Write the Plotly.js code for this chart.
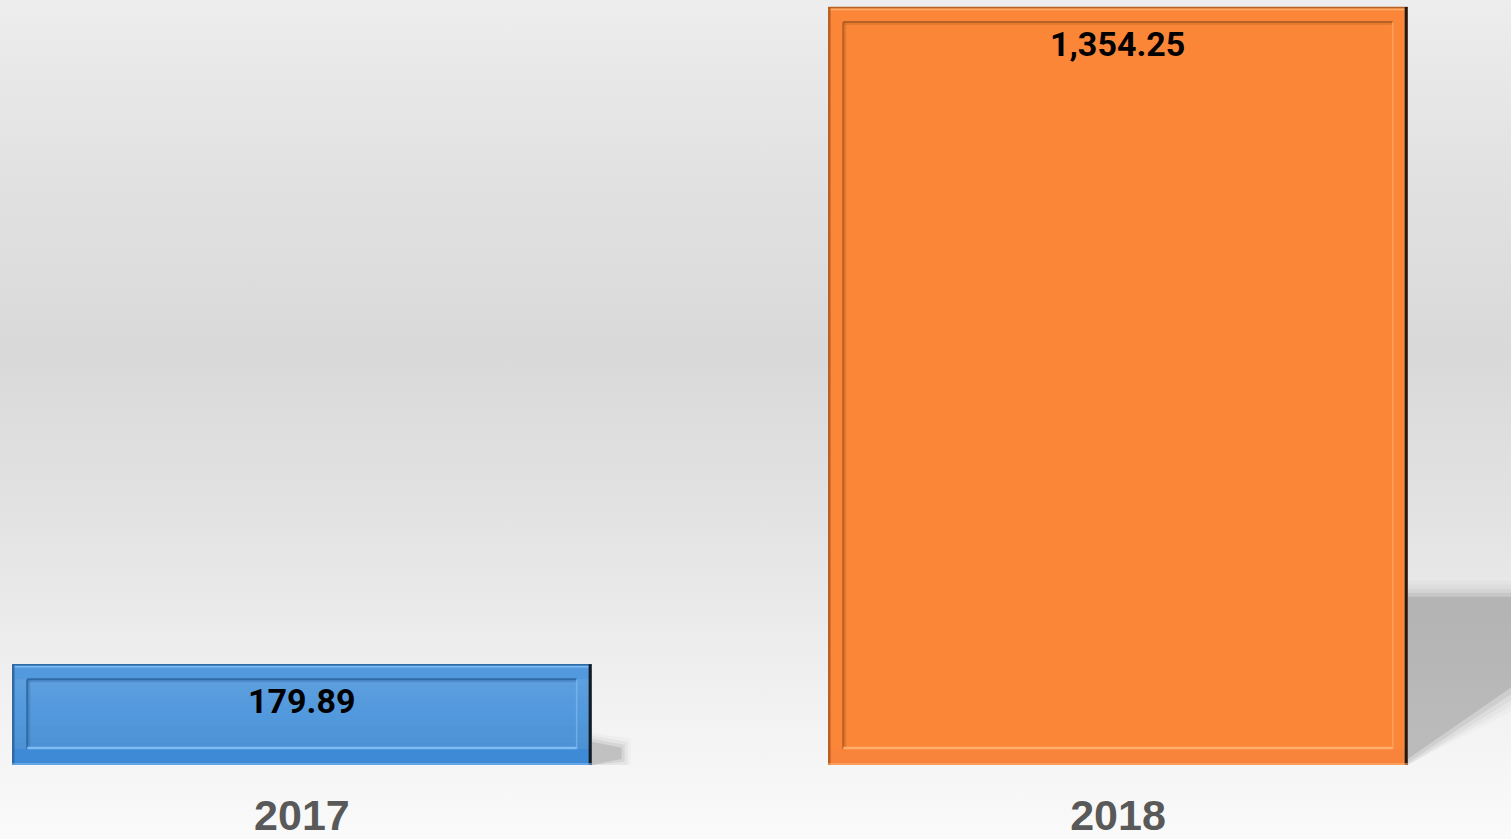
<!DOCTYPE html>
<html>
<head>
<meta charset="utf-8">
<script src="https://cdn.plot.ly/plotly-3.0.1.min.js"></script>
<style>
  html, body { margin: 0; padding: 0; }
  body {
    width: 1511px; height: 839px; overflow: hidden;
    background: linear-gradient(to bottom, #ededed 0%, #e2e2e2 20%, #d9d9d9 42%, #e3e3e3 62%, #efefef 80%, #f6f6f6 92%, #fafafa 100%);
  }
  #chart { width: 1511px; height: 839px; }
</style>
</head>
<body>
<div id="chart"></div>
<script>
// ---- data ----
const categories = ['2017', '2018'];
const values = [179.89, 1354.25];
const barColors = ['#5399DD', '#FB8638'];
const darkEdge = ['#2f6aa5', '#b85f22'];
const lightEdge = ['#7fbcf4', '#ffae6e'];
const bottomBand = ['#3e8ad6', '#f7843a'];
const shade = [0.07, 0.0];

// ---- layout geometry ----
const W = 1511, H = 839, MB = 74;
const plotH = H - MB;
const xRange = [-0.370, 1.4816];
const yRange = [0, 1366.8];
const barWidth = 0.71;
const pxX = W / (xRange[1] - xRange[0]);
const pxY = plotH / (yRange[1] - yRange[0]);
const dx = p => p / pxX;
const dy = p => p / pxY;

const shapes = [];
values.forEach((v, i) => {
  const x0 = i - barWidth / 2, x1 = i + barWidth / 2;
  const hPx = v * pxY;
  // soft shadow to the right of the bar
  const sh = hPx * 0.23;
  const shW = i === 0 ? 30 : 110;
  const drop = i === 0 ? 6 : 72;
  const rims = i === 0 ? [[0, 0.2], [3, 0.12], [6, 0.07], [9, 0.04]] : [[-6, 0.22], [-2, 0.12], [2, 0.08], [6, 0.05], [10, 0.03]];
  rims.forEach(([g, op]) => {
    shapes.push({
      type: 'path', xref: 'x', yref: 'y', layer: 'below',
      path: `M ${x1} ${dy(sh + g)} L ${x1 + dx(shW + g)} ${dy(sh + g - (i === 0 ? 6 : 0))} L ${x1 + dx(shW + g)} ${dy(drop - g)} L ${x1} ${dy(Math.max(0, -g))} Z`,
      fillcolor: `rgba(110,110,110,${op})`, line: { width: 0 }
    });
  });
  const ix0 = x0 + dx(15), ix1 = x1 - dx(15);
  const iy0 = dy(16), iy1 = v - dy(15);
  // vertical shading of inner face
  if (shade[i] > 0) {
    const n = 12;
    for (let k = 0; k < n; k++) {
      const t = (k + 0.5) / n;
      const a = shade[i] * (1 - 2 * t);
      shapes.push({
        type: 'rect', xref: 'x', yref: 'y', layer: 'above',
        x0: x0, x1: x1, y0: iy1 - (iy1 - iy0) * (k + 1) / n, y1: iy1 - (iy1 - iy0) * k / n,
        fillcolor: a >= 0 ? `rgba(255,255,255,${a})` : `rgba(0,40,90,${-a})`, line: { width: 0 }
      });
    }
  }
  // bottom frame band
  shapes.push({
    type: 'rect', xref: 'x', yref: 'y', layer: 'above',
    x0: x0, x1: x1, y0: 0, y1: iy0,
    fillcolor: bottomBand[i], line: { width: 0 }
  });
  const ln = (a, b, c, d, col, w) => shapes.push({
    type: 'line', xref: 'x', yref: 'y', layer: 'above',
    x0: a, y0: b, x1: c, y1: d, line: { color: col, width: w }
  });
  // inner bevel
  ln(ix0, iy1, ix1, iy1, darkEdge[i], 2);
  ln(ix0, iy1 - dy(2), ix1, iy1 - dy(2), darkEdge[i] + '55', 2);
  ln(ix0, iy0, ix0, iy1, darkEdge[i], 2);
  ln(ix0 + dx(2), iy0, ix0 + dx(2), iy1, darkEdge[i] + '55', 2);
  ln(ix0, iy0 + dy(1), ix1, iy0 + dy(1), lightEdge[i], 2.5);
  ln(ix1, iy0, ix1, iy1, lightEdge[i] + 'aa', 1.5);
  // outer edges
  ln(x0, v - dy(0.5), x1, v - dy(0.5), darkEdge[i], 1.5);
  ln(x0, v - dy(2.5), x1, v - dy(2.5), lightEdge[i], 1.5);
  ln(x0 + dx(1), 0, x0 + dx(1), v, darkEdge[i], 2.5);
  ln(x1 - dx(1.5), 0, x1 - dx(1.5), v, '#1a1a1a', 3);
  ln(x0, dy(1), x1, dy(1), lightEdge[i] + 'cc', 1.5);
});

const annotations = values.map((v, i) => ({
  x: i, y: v, xref: 'x', yref: 'y',
  text: v.toLocaleString('en-US', { minimumFractionDigits: 2, maximumFractionDigits: 2 }),
  showarrow: false, yanchor: 'top', xanchor: 'center', yshift: -15,
  font: { family: 'Roboto, sans-serif', size: 34, weight: 'bold', color: '#000000' }
}));

const trace = {
  type: 'bar',
  x: categories,
  y: values,
  width: barWidth,
  marker: { color: barColors, line: { width: 0 } },
  hoverinfo: 'x+y'
};

const layout = {
  width: W, height: H,
  margin: { l: 0, r: 0, t: 0, b: MB, pad: 0 },
  paper_bgcolor: 'rgba(0,0,0,0)',
  plot_bgcolor: 'rgba(0,0,0,0)',
  showlegend: false,
  xaxis: {
    type: 'category', range: xRange, showgrid: false, zeroline: false,
    showline: false, ticks: '', ticklabelstandoff: 21,
    tickfont: { family: 'Liberation Sans, Arial, sans-serif', size: 43, weight: 'bold', color: '#595959' }
  },
  yaxis: {
    range: yRange, visible: false, showgrid: false, zeroline: false
  },
  shapes: shapes,
  annotations: annotations,
  bargap: 0
};

Plotly.newPlot('chart', [trace], layout, { displayModeBar: false, staticPlot: true });
</script>
</body>
</html>
